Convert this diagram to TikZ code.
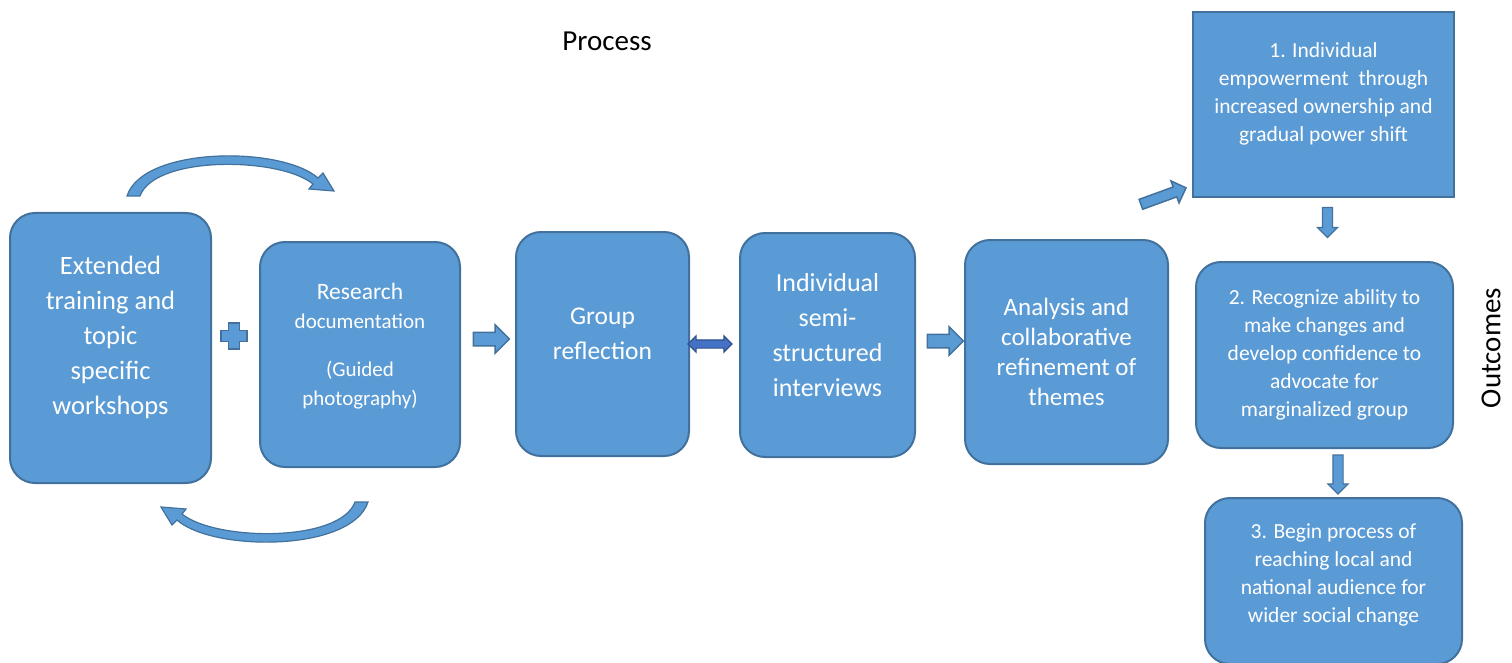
\documentclass[tikz,border=0pt]{standalone}
\usepackage{fontspec}
\setmainfont{Carlito}
\usepackage{tikz}
\usetikzlibrary{shapes.arrows, positioning, calc}
\definecolor{boxblue}{HTML}{5B9BD5}
\definecolor{boxedge}{HTML}{41719C}
\definecolor{linkblue}{HTML}{4472C4}
\definecolor{linkedge}{HTML}{2F528F}
% one loop arrow, the lower one is the same turned round
\newcommand{\looparrow}{(127,196) .. controls (143,146) and (282,146) .. (318,178)
  -- (323,173) -- (334,191) -- (309,189) -- (313,184)
  .. controls (280,157) and (155,155) .. (140,196) -- cycle}

\begin{document}
\begin{tikzpicture}[x=1pt, y=-1pt,
  stage/.style={rectangle, rounded corners=25pt, fill=boxblue, draw=boxedge,
    line width=2pt, text=white, align=center, inner sep=2pt},
  outcome/.style={stage, font=\fontsize{21.5}{28}\selectfont},
  blockarrow/.style={single arrow, fill=boxblue, draw=boxedge, line width=1.5pt,
    inner xsep=0pt, inner ysep=6pt, single arrow head extend=7.5pt, minimum height=36pt},
  linkarrow/.style={double arrow, fill=linkblue, draw=linkedge, line width=1.2pt,
    inner xsep=0pt, inner ysep=3.5pt, double arrow head extend=4pt, minimum height=44pt},
  looparrow/.style={fill=boxblue, draw=boxedge, line width=1.2pt, line join=miter}
]
  \useasboundingbox (0,0) rectangle (1512,663);

  % Process row
  \node[font=\fontsize{29}{34}\selectfont] (process) at (607,41) {Process};
  \node[stage, minimum width=201pt, minimum height=270pt, text depth=25pt,
    font=\fontsize{26.5}{35}\selectfont] (training) at (110.5,348)
    {Extended\\ training and\\ topic\\ specific\\ workshops};
  \node[stage, minimum width=200pt, minimum height=225pt, text depth=20pt,
    font=\fontsize{21}{29}\selectfont] (research) at (360,354.5)
    {{\fontsize{23.5}{29}\selectfont Research}\\ documentation\\[19pt] (Guided\\ photography)};
  \node[stage, minimum width=173pt, minimum height=224pt, text depth=20pt,
    font=\fontsize{25.5}{35}\selectfont] (group) at (602.5,344) {Group\\ reflection};
  \node[stage, minimum width=175pt, minimum height=224pt, text depth=20pt,
    font=\fontsize{26}{35}\selectfont] (interviews) at (827.5,345)
    {Individual\\ semi-\\ structured\\ interviews};
  \node[stage, minimum width=203pt, minimum height=224pt,
    font=\fontsize{25}{30}\selectfont] (analysis) at (1066.5,352)
    {Analysis and\\ collaborative\\ refinement of\\ themes};

  % Outcomes column
  \node[outcome, rounded corners=0pt, minimum width=261pt, minimum height=185pt,
    text depth=24pt] (empower) at (1323.5,104.5)
    {1. Individual\\ empowerment~ through\\ increased ownership and\\ gradual power shift};
  \node[outcome, minimum width=257pt, minimum height=186pt] (recognize) at (1324.5,355)
    {2. Recognize ability to\\ make changes and\\ develop confidence to\\ advocate for\\ marginalized group};
  \node[outcome, minimum width=257pt, minimum height=166pt, text depth=16pt] (audience) at (1333.5,581)
    {3. Begin process of\\ reaching local and\\ national audience for\\ wider social change};
  \node[rotate=90, font=\fontsize{29}{34}\selectfont] (outcomes) at (1491,348) {Outcomes};

  % arrows between the boxes
  \coordinate (plus) at (234,336);
  \filldraw[fill=boxblue, draw=boxedge, line width=1.5pt]
    ($(plus)+(-5.5,-13)$) -- ++(11,0) -- ++(0,7.5) -- ++(7.5,0) -- ++(0,11)
    -- ++(-7.5,0) -- ++(0,7.5) -- ++(-11,0) -- ++(0,-7.5) -- ++(-7.5,0)
    -- ++(0,-11) -- ++(7.5,0) -- cycle;
  \filldraw[looparrow] \looparrow;
  \begin{scope}[rotate around={180:(247.5,349)}]
    \filldraw[looparrow] \looparrow;
  \end{scope}

  \node[blockarrow] (toGroup) at (488,339) {};
  \node[linkarrow] (groupLink) at (710,344) {};
  \node[blockarrow] (toAnalysis) at (942,341) {};
  \node[blockarrow, rotate=20, inner ysep=4.5pt, single arrow head extend=6.5pt,
    minimum height=48pt] (toEmpower) at (1161,197) {};
  \node[blockarrow, rotate=-90, inner ysep=4.5pt, single arrow head extend=5pt,
    minimum height=30pt, line width=1.2pt] (toRecognize) at (1327.5,220) {};
  \node[blockarrow, rotate=-90, inner ysep=4.5pt, single arrow head extend=5pt,
    minimum height=39pt, line width=1.2pt] (toAudience) at (1338,472) {};
\end{tikzpicture}
\end{document}
